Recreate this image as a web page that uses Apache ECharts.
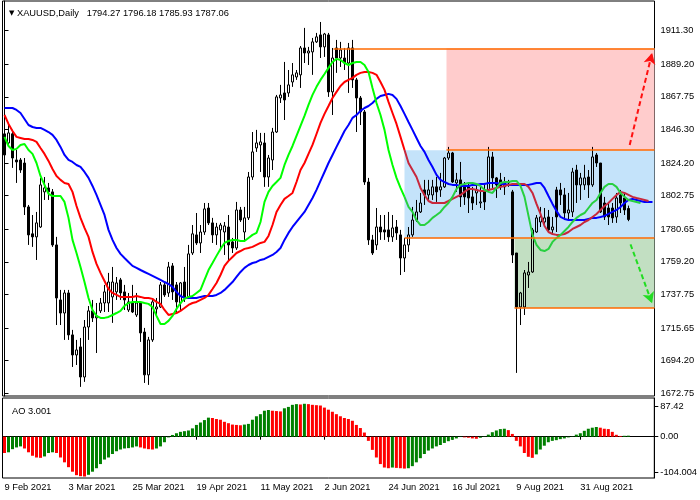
<!DOCTYPE html>
<html><head><meta charset="utf-8">
<script src="https://cdn.jsdelivr.net/npm/echarts@6/dist/echarts.min.js"></script>
<style>html,body{margin:0;padding:0;background:#fff}#c{width:700px;height:500px}</style>
</head><body><div id="c"></div>
<script>
// ---------- data ----------
const dates = ['9 Feb 2021','10 Feb 2021','11 Feb 2021','12 Feb 2021','15 Feb 2021','16 Feb 2021','17 Feb 2021','18 Feb 2021','19 Feb 2021','22 Feb 2021','23 Feb 2021','24 Feb 2021','25 Feb 2021','26 Feb 2021',
'1 Mar 2021','2 Mar 2021','3 Mar 2021','4 Mar 2021','5 Mar 2021','8 Mar 2021','9 Mar 2021','10 Mar 2021','11 Mar 2021','12 Mar 2021','15 Mar 2021','16 Mar 2021','17 Mar 2021','18 Mar 2021','19 Mar 2021','22 Mar 2021','23 Mar 2021','24 Mar 2021','25 Mar 2021','26 Mar 2021','29 Mar 2021','30 Mar 2021','31 Mar 2021',
'1 Apr 2021','5 Apr 2021','6 Apr 2021','7 Apr 2021','8 Apr 2021','9 Apr 2021','12 Apr 2021','13 Apr 2021','14 Apr 2021','15 Apr 2021','16 Apr 2021','19 Apr 2021','20 Apr 2021','21 Apr 2021','22 Apr 2021','23 Apr 2021','26 Apr 2021','27 Apr 2021','28 Apr 2021','29 Apr 2021','30 Apr 2021',
'3 May 2021','4 May 2021','5 May 2021','6 May 2021','7 May 2021','10 May 2021','11 May 2021','12 May 2021','13 May 2021','14 May 2021','17 May 2021','18 May 2021','19 May 2021','20 May 2021','21 May 2021','24 May 2021','25 May 2021','26 May 2021','27 May 2021','28 May 2021','31 May 2021',
'1 Jun 2021','2 Jun 2021','3 Jun 2021','4 Jun 2021','7 Jun 2021','8 Jun 2021','9 Jun 2021','10 Jun 2021','11 Jun 2021','14 Jun 2021','15 Jun 2021','16 Jun 2021','17 Jun 2021','18 Jun 2021','21 Jun 2021','22 Jun 2021','23 Jun 2021','24 Jun 2021','25 Jun 2021','28 Jun 2021','29 Jun 2021','30 Jun 2021',
'1 Jul 2021','2 Jul 2021','5 Jul 2021','6 Jul 2021','7 Jul 2021','8 Jul 2021','9 Jul 2021','12 Jul 2021','13 Jul 2021','14 Jul 2021','15 Jul 2021','16 Jul 2021','19 Jul 2021','20 Jul 2021','21 Jul 2021','22 Jul 2021','23 Jul 2021','26 Jul 2021','27 Jul 2021','28 Jul 2021','29 Jul 2021','30 Jul 2021',
'2 Aug 2021','3 Aug 2021','4 Aug 2021','5 Aug 2021','6 Aug 2021','9 Aug 2021','10 Aug 2021','11 Aug 2021','12 Aug 2021','13 Aug 2021','16 Aug 2021','17 Aug 2021','18 Aug 2021','19 Aug 2021','20 Aug 2021','23 Aug 2021','24 Aug 2021','25 Aug 2021','26 Aug 2021','27 Aug 2021','30 Aug 2021','31 Aug 2021',
'1 Sep 2021','2 Sep 2021','3 Sep 2021','6 Sep 2021','7 Sep 2021','8 Sep 2021','9 Sep 2021','10 Sep 2021','13 Sep 2021','14 Sep 2021','15 Sep 2021','16 Sep 2021'];
const emptySlots = ['', ' ', '  ', '   ', '    ', '     '];
const dateTicks = ['9 Feb 2021','3 Mar 2021','25 Mar 2021','19 Apr 2021','11 May 2021','2 Jun 2021','24 Jun 2021','16 Jul 2021','9 Aug 2021','31 Aug 2021'];

const opens = [1829.5,1837.4,1843.4,1826.2,1826.2,1824.2,1795.3,1777.6,1775.6,1782.1,
1805.2,1807.8,1805.2,1770.3,1734.1,1725.5,1738.7,1711.1,1697.9,1703.2,
1683.4,1716.3,1726.9,1722.3,1726.9,1732.1,1732.1,1736.1,1739.4,1747.3,
1739.4,1727.5,1732.1,1724.2,1732.1,1713.0,1684.8,1707.8,1728.2,1729.5,
1744.0,1738.7,1756.5,1744.0,1732.1,1745.9,1736.1,1765.0,1776.9,1771.6,
1778.8,1794.6,1784.8,1776.9,1780.2,1778.8,1782.1,1772.3,1768.3,1793.3,
1778.8,1788.1,1815.0,1834.1,1836.1,1837.4,1815.0,1826.2,1844.6,1867.0,
1870.3,1870.3,1877.5,1880.8,1882.2,1899.9,1896.6,1897.3,1903.9,1908.5,
1900.6,1908.5,1871.0,1899.9,1893.3,1893.3,1890.0,1899.9,1878.9,1867.0,
1857.8,1811.7,1773.6,1770.3,1782.1,1780.2,1780.2,1775.6,1782.1,1776.9,
1761.7,1770.3,1776.9,1786.7,1792.0,1806.5,1803.2,1803.2,1808.5,1806.5,
1808.5,1827.5,1830.8,1811.1,1813.1,1808.5,1808.5,1801.9,1804.5,1797.9,
1806.5,1806.5,1828.2,1814.4,1813.1,1808.5,1811.1,1805.2,1765.0,1729.5,
1729.5,1750.5,1752.5,1778.8,1785.4,1785.4,1788.7,1780.2,1806.5,1806.5,
1803.2,1791.3,1792.0,1819.6,1809.8,1809.8,1815.0,1809.8,1829.5,1824.2,
1797.9,1794.6,1794.6,1788.7,1803.2,1801.2,1794.27];
const highs = [1849.2,1849.9,1846.0,1832.8,1827.5,1827.5,1796.6,1790.0,1792.0,1814.4,
1815.0,1811.1,1807.1,1775.6,1740.7,1740.7,1740.7,1714.4,1707.8,1709.1,
1720.9,1730.1,1734.1,1732.1,1735.4,1744.0,1751.9,1755.8,1749.2,1748.6,
1744.0,1738.7,1744.0,1738.7,1732.8,1715.7,1709.8,1734.1,1735.4,1745.9,
1745.9,1759.1,1758.4,1745.9,1745.9,1755.8,1770.3,1783.4,1791.3,1783.4,
1797.9,1797.9,1788.1,1784.8,1784.8,1785.4,1790.0,1774.9,1798.6,1795.3,
1795.3,1818.3,1844.6,1846.0,1844.0,1844.0,1829.5,1847.3,1869.0,1875.6,
1890.7,1885.4,1890.0,1885.4,1901.2,1913.1,1900.6,1906.5,1909.8,1917.0,
1909.8,1909.8,1899.9,1905.2,1903.9,1899.9,1903.2,1905.2,1880.2,1868.3,
1859.1,1814.4,1776.9,1794.6,1790.0,1790.0,1792.0,1790.0,1786.7,1780.2,
1774.9,1782.1,1795.3,1799.9,1804.5,1813.1,1813.1,1813.1,1815.0,1817.7,
1828.2,1834.8,1831.5,1817.7,1824.9,1811.7,1811.1,1808.5,1809.8,1808.5,
1811.1,1834.8,1831.5,1815.0,1817.7,1815.0,1813.1,1806.5,1765.0,1739.4,
1753.8,1759.1,1781.5,1790.0,1795.3,1794.6,1793.3,1788.7,1808.5,1811.1,
1807.8,1804.5,1821.0,1823.0,1817.7,1823.0,1819.6,1834.8,1830.8,1824.2,
1801.9,1797.9,1797.9,1804.5,1806.5,1804.5,1796.18];
const lows = [1827.5,1834.8,1821.0,1811.1,1817.7,1790.0,1770.3,1769.0,1760.4,1781.5,
1799.9,1799.9,1769.0,1717.6,1717.6,1707.8,1707.8,1690.0,1691.3,1676.9,
1680.2,1707.8,1719.6,1699.2,1725.5,1726.2,1726.2,1719.0,1734.1,1734.1,
1727.5,1726.2,1725.5,1722.9,1706.5,1679.5,1678.2,1706.5,1722.9,1728.8,
1736.1,1736.1,1734.1,1726.2,1727.5,1732.8,1735.4,1763.7,1770.3,1765.0,
1776.9,1783.4,1771.6,1770.3,1768.3,1763.7,1759.1,1765.0,1767.0,1785.4,
1772.3,1786.7,1813.1,1831.5,1818.3,1808.5,1808.5,1819.6,1844.0,1863.7,
1852.5,1867.7,1874.3,1878.9,1873.6,1890.0,1888.7,1882.2,1903.2,1893.3,
1894.0,1867.7,1855.8,1883.5,1887.4,1885.4,1870.3,1873.6,1844.6,1849.2,
1809.8,1770.3,1763.7,1767.0,1773.6,1773.6,1772.3,1772.3,1773.6,1750.5,
1752.5,1765.7,1775.6,1785.4,1791.3,1796.6,1799.9,1799.9,1798.6,1801.9,
1807.8,1826.2,1811.1,1805.2,1795.3,1796.6,1791.3,1793.3,1796.6,1794.6,
1793.3,1805.2,1807.8,1801.2,1806.5,1803.2,1808.5,1758.4,1686.1,1717.6,
1724.2,1742.0,1751.9,1778.2,1782.1,1782.1,1778.2,1778.2,1778.8,1796.6,
1786.7,1786.7,1788.7,1797.9,1799.9,1806.5,1801.2,1808.5,1821.6,1791.3,
1786.7,1783.4,1784.8,1784.8,1791.3,1790.0,1785.93];
const closes = [1843.4,1844.0,1827.5,1824.9,1819.6,1795.3,1776.9,1775.6,1784.8,1809.8,
1807.8,1805.2,1770.3,1735.4,1725.5,1738.7,1711.1,1697.9,1701.2,1683.4,
1716.3,1726.9,1722.3,1723.6,1732.1,1739.4,1745.9,1745.9,1745.3,1738.7,
1734.1,1732.8,1726.2,1732.1,1712.4,1684.8,1707.8,1732.8,1729.5,1744.0,
1737.4,1755.8,1739.4,1732.8,1745.3,1735.4,1764.4,1777.6,1771.6,1778.8,
1794.0,1784.8,1776.9,1782.1,1783.4,1782.8,1770.3,1768.3,1793.3,1786.7,
1788.1,1815.0,1831.5,1837.4,1838.1,1815.0,1827.5,1844.6,1867.7,1869.0,
1865.7,1875.6,1882.2,1883.5,1899.9,1896.6,1897.9,1903.9,1907.2,1900.6,
1909.1,1871.0,1893.3,1893.3,1898.6,1890.0,1899.9,1878.9,1867.0,1857.8,
1811.7,1773.6,1765.0,1782.1,1778.8,1778.8,1775.6,1781.5,1778.2,1761.7,
1770.3,1776.9,1786.7,1792.0,1797.9,1803.2,1806.5,1808.5,1805.2,1808.5,
1827.5,1830.8,1811.7,1813.1,1801.9,1801.9,1801.2,1797.9,1806.5,1798.6,
1798.6,1828.2,1814.4,1809.8,1808.5,1811.1,1811.7,1763.7,1729.5,1738.7,
1751.9,1752.5,1780.2,1788.1,1788.7,1788.1,1780.2,1782.1,1788.7,1803.2,
1791.3,1793.3,1818.3,1809.8,1814.4,1814.4,1809.8,1828.2,1824.2,1792.0,
1788.7,1788.7,1788.1,1801.2,1797.9,1793.3,1787.06];

// Alligator lines (already shifted forward: jaw 8, teeth 5, lips 3 bars)
const jaw = [1860.4,1860.4,1860.4,1859.1,1857.1,1853.2,1849.2,1847.9,1847.3,1847.3,
1846.0,1844.6,1842.7,1839.4,1834.8,1829.5,1826.2,1824.9,1822.9,1821.6,
1818.3,1814.4,1809.1,1803.2,1796.6,1790.0,1780.2,1773.6,1768.3,1764.4,
1761.7,1759.1,1756.5,1755.2,1753.8,1752.5,1751.2,1749.9,1748.6,1747.3,
1745.9,1744.6,1742.7,1739.4,1736.7,1735.4,1735.4,1735.4,1735.4,1736.1,
1736.7,1736.7,1736.7,1737.4,1738.7,1740.7,1743.3,1745.9,1749.2,1752.5,
1755.2,1757.1,1758.4,1759.1,1760.4,1761.1,1762.4,1763.7,1765.7,1768.3,
1773.6,1778.2,1782.1,1785.4,1788.7,1792.0,1796.6,1801.2,1806.5,1812.4,
1818.3,1824.2,1829.5,1834.8,1840.0,1845.3,1849.2,1853.9,1855.8,1858.5,
1860.4,1861.7,1863.7,1866.4,1868.3,1869.0,1869.7,1869.0,1866.4,1861.7,
1856.5,1851.2,1846.0,1840.7,1835.4,1831.5,1826.2,1821.6,1816.4,1813.1,
1811.7,1810.4,1809.8,1809.8,1809.1,1809.1,1809.1,1809.8,1809.8,1810.4,
1810.4,1811.1,1811.1,1811.1,1810.4,1810.4,1809.8,1809.8,1809.8,1809.8,
1809.8,1809.8,1810.4,1811.1,1811.1,1807.8,1802.5,1797.3,1792.7,1788.7,
1787.4,1786.7,1786.7,1786.7,1786.7,1786.7,1787.4,1788.1,1788.1,1788.7,
1789.4,1790.7,1792.0,1793.3,1795.3,1797.9,1799.9,1800.6,1799.9,1799.2,
1798.6,1798.6,1798.6];
const teeth = [1855.8,1849.9,1845.3,1841.4,1840.7,1840.0,1840.0,1839.4,1838.1,1834.1,
1830.2,1825.6,1820.3,1815.7,1813.1,1811.1,1810.4,1805.2,1795.9,1788.1,
1781.5,1775.6,1765.7,1757.8,1751.9,1746.6,1741.3,1738.7,1737.4,1736.1,
1736.1,1736.1,1736.1,1736.7,1736.1,1735.4,1735.4,1734.8,1732.8,1731.5,
1727.5,1724.2,1724.9,1725.5,1726.9,1728.8,1730.8,1732.1,1732.8,1734.1,
1735.4,1737.4,1741.3,1745.3,1750.5,1756.5,1759.8,1762.4,1765.0,1766.3,
1767.7,1768.3,1769.0,1770.3,1771.6,1772.3,1776.2,1783.4,1792.0,1796.6,
1800.6,1802.5,1804.5,1811.7,1819.6,1824.2,1830.2,1836.1,1843.3,1850.6,
1856.5,1861.7,1867.0,1871.0,1874.9,1877.5,1878.9,1880.2,1882.2,1883.5,
1884.1,1884.1,1883.5,1882.2,1877.5,1872.3,1864.4,1857.1,1849.9,1841.4,
1832.8,1824.2,1819.6,1815.0,1807.8,1803.2,1799.2,1797.9,1797.9,1797.9,
1797.9,1799.2,1800.6,1801.9,1803.2,1805.2,1807.1,1807.1,1806.5,1805.8,
1805.8,1806.5,1807.1,1807.8,1808.5,1809.1,1809.8,1810.4,1810.4,1810.4,
1810.4,1808.5,1804.5,1797.3,1790.7,1782.8,1778.8,1777.5,1776.9,1776.9,
1777.5,1778.8,1780.8,1782.1,1783.4,1785.4,1786.7,1788.7,1790.7,1793.3,
1795.9,1797.9,1800.6,1803.2,1805.2,1804.5,1803.2,1801.9,1801.2,1800.6,
1799.9,1799.2];
const lips = [1841.4,1835.4,1832.8,1833.5,1836.1,1836.7,1832.8,1830.2,1824.2,1815.7,
1809.8,1803.9,1802.5,1802.5,1802.5,1798.6,1788.1,1773.6,1765.0,1755.8,
1745.9,1735.4,1727.5,1723.6,1722.3,1722.3,1722.9,1724.2,1725.5,1726.9,
1730.2,1732.1,1732.8,1732.8,1732.8,1732.1,1731.5,1729.5,1723.6,1718.3,
1718.3,1720.3,1723.6,1728.2,1732.1,1734.8,1736.1,1736.7,1738.7,1740.7,
1747.3,1753.8,1758.4,1763.1,1767.7,1771.6,1772.9,1773.6,1773.6,1772.9,
1772.9,1774.9,1776.9,1778.2,1785.4,1798.6,1805.2,1809.1,1811.7,1814.4,
1822.9,1829.5,1835.4,1842.0,1848.6,1855.2,1862.4,1869.0,1874.3,1878.9,
1882.8,1886.8,1890.7,1892.7,1892.0,1890.0,1888.7,1890.0,1890.7,1890.7,
1888.7,1884.1,1873.6,1863.7,1855.8,1846.0,1832.8,1822.9,1814.4,1807.8,
1801.9,1795.3,1792.0,1786.7,1783.4,1783.4,1785.4,1788.1,1790.0,1792.0,
1795.3,1797.9,1801.9,1807.1,1809.8,1810.4,1811.1,1811.1,1810.4,1809.1,
1806.5,1805.2,1804.5,1807.8,1811.1,1811.7,1811.7,1812.4,1812.4,1809.1,
1801.9,1789.4,1776.9,1770.3,1767.0,1766.3,1767.7,1772.3,1774.9,1776.9,
1779.5,1782.1,1785.4,1788.1,1790.0,1791.3,1794.6,1797.9,1799.9,1804.5,
1808.5,1810.4,1810.4,1808.5,1804.5,1801.9,1799.9,1799.2,1798.6,1797.9];

const ao = [-47,-45,-36,-31,-28,-34,-45,-55,-60,-61,
-57,-47,-45,-47,-60,-74,-88,-101,-111,-114,
-115,-110,-101,-91,-79,-66,-60,-50,-42,-37,
-34,-33,-31,-28,-31,-34,-36,-37,-34,-28,
-16,-2,5,10,14,16,18,24,34,41,
48,55,54,51,49,43,39,35,34,33,
35,37,49,59,65,75,77,75,74,73,
82,86,92,94,93,95,94,92,91,90,
84,78,72,65,59,54,51,46,34,25,
12,-12,-38,-60,-79,-89,-91,-89,-90,-91,
-92,-91,-85,-74,-62,-50,-40,-34,-28,-24,
-18,-13,-9,-5,-1,-2,-3,-5,-6,-3,
1,6,13,18,22,23,19,8,-12,-28,
-47,-58,-61,-51,-37,-26,-16,-12,-10,-7,
-5,-2,1,6,10,17,23,26,28,26,
23,22,14,5.5,2.2,2.6,3.001];

const priceTicks = [1672.75,1694.20,1715.65,1737.75,1759.20,1780.65,1802.75,1824.20,1846.30,1867.75,1889.20,1911.30];
const aoTicks = [-104.004, 0, 87.42];
const aoTickLabels = ['-104.004', '0.00', '87.42'];
const lastBar = ['1794.27', '1796.18', '1785.93', '1787.06'];
const lastPrice = 1787.06;
const aoLast = '3.001';

// trade plan levels (price) and the bar position where each starts
const levelPrices = [1899.7, 1832.6, 1774.7, 1728.8];
const levelStarts = [82.25, 110.5, 100, 127.5];
const chartEnd = 162.5;
// zones: [startBar, topPrice, bottomPrice]
const zoneUp = [110.5, 1899.7, 1832.6];
const zoneRange = [100, 1832.6, 1774.7];
const zoneDown = [127.5, 1774.7, 1728.8];
// arrows: [[bar, price], [bar, price]]
const arrowUp = [[156.3, 1836.1], [161.9, 1896.6]];
const arrowDown = [[156.5, 1770.7], [161.9, 1731.9]];
// bar where the range zone begins (line tint changes inside it)
const zoneStartBar = 100;

// ---------- chart ----------
const categories = dates.concat(emptySlots);
const candleData = opens.map((o, i) => [o, closes[i], lows[i], highs[i]]);
const before = arr => arr.map((v, i) => i <= zoneStartBar ? v : null);
const after = arr => arr.map((v, i) => i >= zoneStartBar ? v : null);
const FONT = 'Liberation Sans';
const FS = 9.3;

const chart = echarts.init(document.getElementById('c'), null, {renderer: 'canvas'});
const tickFilter = (idx, val) => dateTicks.indexOf(val) >= 0;
const lineSeries = (data, color) => ({type: 'line', xAxisIndex: 0, yAxisIndex: 0, data: data, symbol: 'none', z: 3,
  connectNulls: false, silent: true, lineStyle: {color: color, width: 2}});

chart.setOption({
  animation: false,
  backgroundColor: '#fff',
  title: [
    {text: '{t|▼} XAUUSD,Daily   ' + lastBar.join(' '), left: 4, top: 4,
     textStyle: {fontFamily: FONT, fontSize: FS, fontWeight: 'normal', color: '#000',
       rich: {t: {fontSize: 7, fontFamily: 'DejaVu Sans', color: '#000'}}}},
    {text: 'AO ' + aoLast, left: 7, top: 402,
     textStyle: {fontFamily: FONT, fontSize: FS, fontWeight: 'normal', color: '#000'}}
  ],
  grid: [
    {left: 2.5, right: 45.5, top: 1, height: 395, show: true, borderColor: '#000', borderWidth: 1, backgroundColor: '#fff'},
    {left: 2.5, right: 45.5, top: 398, height: 80, show: true, borderColor: '#000', borderWidth: 1, backgroundColor: '#fff'}
  ],
  xAxis: [
    {type: 'category', gridIndex: 0, data: categories, boundaryGap: true, show: false},
    {type: 'value', gridIndex: 0, min: -0.5, max: chartEnd, show: false},
    {type: 'category', gridIndex: 1, data: categories, boundaryGap: true,
     axisLine: {lineStyle: {color: '#000', width: 1}},
     axisTick: {show: true, interval: tickFilter, alignWithLabel: true, length: 3, lineStyle: {color: '#000'}},
     axisLabel: {interval: tickFilter, align: 'left', margin: 5, fontFamily: FONT, fontSize: FS, color: '#000'},
     splitLine: {show: false}}
  ],
  yAxis: [
    {type: 'value', gridIndex: 0, position: 'right', min: 1670.9, max: 1930.8, scale: true,
     axisLine: {show: true, lineStyle: {color: '#000'}},
     axisTick: {show: true, length: 4, customValues: priceTicks, lineStyle: {color: '#000'}},
     axisLabel: {customValues: priceTicks, formatter: v => v.toFixed(2), margin: 6, fontFamily: FONT, fontSize: FS, color: '#000'},
     splitLine: {show: false}},
    {type: 'value', gridIndex: 1, position: 'right', min: -119.2, max: 111.7,
     axisLine: {show: true, lineStyle: {color: '#000'}},
     axisTick: {show: true, length: 4, customValues: aoTicks, lineStyle: {color: '#000'}},
     axisLabel: {customValues: aoTicks, formatter: v => aoTickLabels[aoTicks.indexOf(v)], margin: 6, fontFamily: FONT, fontSize: FS, color: '#000'},
     splitLine: {show: false}}
  ],
  series: [
    { // zones and levels
      type: 'line', xAxisIndex: 1, yAxisIndex: 0, data: [], z: 1, silent: true,
      markArea: {silent: true, data: [
        [{coord: [zoneUp[0], zoneUp[1]], itemStyle: {color: '#ffcccc'}}, {coord: [chartEnd, zoneUp[2]]}],
        [{coord: [zoneRange[0], zoneRange[1]], itemStyle: {color: '#c4e3fa'}}, {coord: [chartEnd, zoneRange[2]]}],
        [{coord: [zoneDown[0], zoneDown[1]], itemStyle: {color: '#c2dfc2'}}, {coord: [chartEnd, zoneDown[2]]}]
      ]},
      markLine: {silent: true, symbol: 'none', label: {show: false},
        lineStyle: {color: '#ff6a00', width: 1.5, type: 'solid'},
        data: levelPrices.map((p, k) => [{coord: [levelStarts[k], p]}, {coord: [chartEnd, p]}])}
    },
    { // candles
      type: 'candlestick', xAxisIndex: 0, yAxisIndex: 0, data: candleData, barWidth: 2, z: 2, silent: true,
      itemStyle: {color: 'rgba(0,0,0,0)', color0: '#000', borderColor: '#000', borderColor0: '#000', borderWidth: 1},
      markLine: {silent: true, symbol: 'none',
        lineStyle: {opacity: 0},
        label: {show: true, position: 'end', distance: 2, formatter: lastBar[3], backgroundColor: '#000', color: '#fff',
          padding: [2, 3, 1, 3], fontFamily: FONT, fontSize: FS},
        data: [{yAxis: lastPrice}]}
    },
    lineSeries(jaw, '#0000ff'),
    lineSeries(before(teeth), '#ff0000'),
    lineSeries(after(teeth), '#c8283c'),
    lineSeries(before(lips), '#00ff00'),
    lineSeries(after(lips), '#28d040'),
    { // arrows
      type: 'line', xAxisIndex: 1, yAxisIndex: 0, data: [], z: 6, silent: true,
      markLine: {silent: true, symbol: ['none', 'arrow'], symbolSize: [9, 11], label: {show: false},
        data: [
          [{coord: arrowUp[0], lineStyle: {color: '#ff1010', width: 2, type: [5, 3]}}, {coord: arrowUp[1]}],
          [{coord: arrowDown[0], lineStyle: {color: '#22dd22', width: 2, type: [5, 3]}}, {coord: arrowDown[1]}]
        ]}
    },
    {type: 'bar', xAxisIndex: 2, yAxisIndex: 1, data: ao, barWidth: 3, silent: true,
     itemStyle: {color: p => (p.dataIndex > 0 && ao[p.dataIndex] > ao[p.dataIndex - 1]) ? '#008000' : '#ff0000'}}
  ]
});
</script>
</body></html>
